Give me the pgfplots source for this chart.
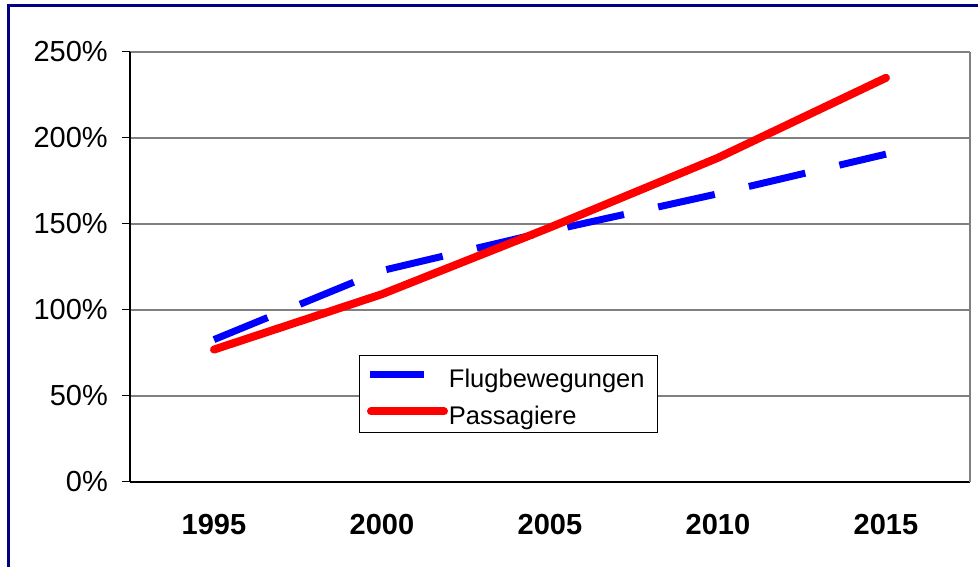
\documentclass[border=0pt]{standalone}
\usepackage{pgfplots}
\pgfplotsset{compat=1.18}
\usepackage{fontspec}
\setmainfont{Liberation Sans}
\definecolor{navyframe}{RGB}{0,0,128}
\definecolor{gridgray}{RGB}{128,128,128}
\pgfplotsset{
  blueleg/.style={legend image code/.code={\path[draw=none,fill=none,line width=0pt] (0pt,0pt) rectangle (81pt,17.9pt); \draw[##1, solid] (3pt,4.9pt) -- (57pt,4.9pt);}},
  redleg/.style={legend image code/.code={\path[draw=none,fill=none,line width=0pt] (0pt,0pt) rectangle (81pt,4.9pt); \draw[##1] (4pt,4.9pt) -- (77pt,4.9pt);}},
}
\begin{document}
\begin{tikzpicture}
\useasboundingbox (-130pt,-85pt) rectangle (848pt,482pt);
\fill[white] (-130pt,-85pt) rectangle (848pt,482pt);
\begin{axis}[
  at={(0pt,0pt)}, anchor=south west,
  scale only axis, width=840pt, height=430pt,
  xmin=-0.5, xmax=4.5, ymin=0, ymax=250,
  axis lines*=left,
  axis line style={black, line width=1.5pt},
  /pgf/number format/assume math mode=true,
  xtick={0,1,2,3,4},
  xticklabels={1995,2000,2005,2010,2015},
  minor xtick={-0.5,0.5,1.5,2.5,3.5,4.5},
  extra x ticks={4.5}, extra x tick labels={},
  extra x tick style={grid=major, major grid style={gridgray, line width=2pt}},
  ytick={0,50,100,150,200,250},
  yticklabel={\pgfmathprintnumber{\tick}\%},
  ymajorgrids, major grid style={gridgray, line width=1.6pt},
  tick align=outside,
  major tick length=8pt, minor tick length=9pt,
  xtick style={draw=none},
  minor tick style={black, line width=1pt},
  ytick style={black, line width=1pt},
  yticklabel style={font=\fontsize{29}{34}\selectfont, inner sep=0pt, anchor=east, xshift=-14pt},
  xticklabel style={font=\bfseries\fontsize{29}{34}\selectfont, inner sep=0pt, anchor=north, yshift=-24pt},
  legend style={at={(0.2726,0.2953)}, anchor=north west, draw=black, line width=1pt,
    fill=white, inner xsep=7pt, inner ysep=6pt, nodes={inner sep=0pt},
    row sep=17pt, column sep=1pt, font=\fontsize{25.5}{30}\selectfont},
  legend cell align=left,
]
\addplot[blue, line width=7pt, dash pattern=on 58pt off 35pt, blueleg]
  coordinates {(0,82.8) (1,122.9) (2,146) (3,167.6) (4,190.6)};
\addlegendentry{\makebox[202pt][l]{Flugbewegungen}}
\addplot[red, line width=8pt, line cap=round, line join=round, redleg]
  coordinates {(0,77) (1,109.2) (2,148) (3,188.5) (4,235)};
\addlegendentry{Passagiere}
\end{axis}
\draw[navyframe, line width=3pt] (-121.5pt,-100pt) rectangle (860pt,476.5pt);
\end{tikzpicture}
\end{document}
